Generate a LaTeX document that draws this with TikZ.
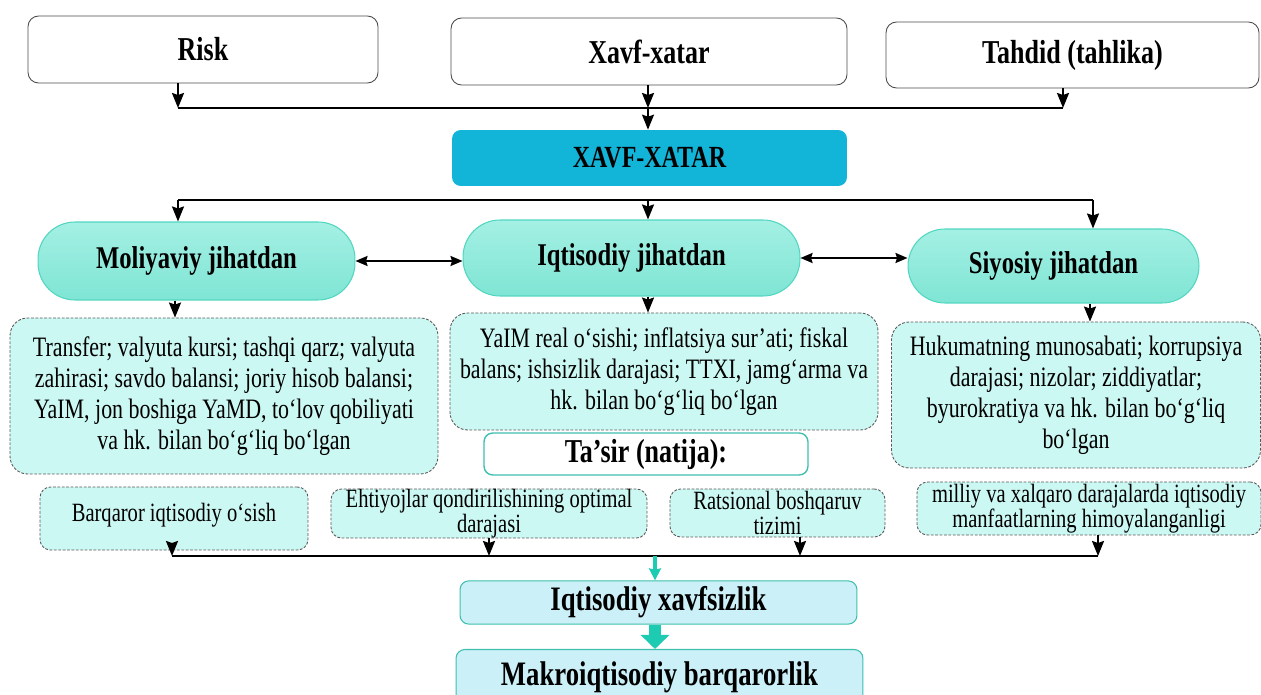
\documentclass[tikz,border=0pt]{standalone}
\usepackage{fontspec}
\setmainfont{Liberation Serif}[FakeStretch=0.78]
\usetikzlibrary{arrows.meta, positioning, calc}

\definecolor{PillTop}{HTML}{A4F0E4}
\definecolor{PillBot}{HTML}{7FE5D4}
\definecolor{PillLine}{HTML}{52D6C0}
\definecolor{SoftAqua}{HTML}{CCF8F3}
\definecolor{SkyCyan}{HTML}{12B4D8}
\definecolor{PaleCyan}{HTML}{CBF0F8}
\definecolor{TealLine}{HTML}{3FBFAE}
\definecolor{TealArrow}{HTML}{1DCAB2}

\begin{document}
\begin{tikzpicture}[x=0.02cm, y=-0.02cm,
    topbox/.style={rectangle, rounded corners=6pt, draw=black!70, line width=0.5pt, fill=white,
                   font=\fontsize{19}{22}\selectfont\bfseries},
    mainbox/.style={rectangle, rounded corners=5pt, fill=SkyCyan, minimum width=7.9cm, minimum height=1.12cm,
                    font=\fontsize{17.5}{20}\selectfont\bfseries},
    pill/.style={rectangle, rounded corners=0.74cm, draw=PillLine, line width=0.6pt,
                 top color=PillTop, bottom color=PillBot, font=\fontsize{18}{21}\selectfont\bfseries},
    textbox/.style={rectangle, rounded corners=10pt, draw=black!65, line width=0.5pt,
                    dash pattern=on 1.6pt off 0.9pt, fill=SoftAqua, align=center, inner sep=0pt,
                    font=\fontsize{16}{17.6}\selectfont},
    smallbox/.style={textbox, rounded corners=6pt, font=\fontsize{15}{14}\selectfont},
    resbox/.style={rectangle, rounded corners=5pt, draw=TealLine, line width=0.8pt, fill=white,
                   minimum width=6.48cm, minimum height=0.72cm, font=\fontsize{19}{22}\selectfont\bfseries},
    endbox/.style={rectangle, rounded corners=5pt, draw=TealLine, line width=0.6pt, fill=PaleCyan,
                   font=\fontsize{19.5}{22}\selectfont\bfseries},
    arrow/.style={-{Stealth[length=3mm, width=2.4mm, inset=0.4mm]}, line width=1.2pt},
    darrow/.style={{Stealth[length=2.4mm, width=2mm, inset=0.3mm]}-{Stealth[length=2.4mm, width=2mm, inset=0.3mm]}, line width=1.2pt},
    bus/.style={line width=1.5pt},
    tealarrow/.style={-{Stealth[length=2.4mm, width=2.4mm, inset=0.3mm]}, line width=1.8pt, TealArrow},
    fatarrow/.style={-{Triangle[length=8pt, width=16pt]}, line width=6.5pt, TealArrow}
]
\useasboundingbox (0,0) rectangle (1261,695);

\node[topbox, minimum width=7cm, minimum height=1.34cm] (risk) at (203,49.5) {Risk};
\node[topbox, minimum width=7.92cm, minimum height=1.34cm] (xavf) at (649,51.5) {Xavf-xatar};
\node[topbox, minimum width=7.46cm, minimum height=1.32cm] (tahdid) at (1072.5,55) {Tahdid (tahlika)};

\node[mainbox] (main) at (649.5,158) {XAVF-XATAR};

\node[pill, minimum width=6.34cm, minimum height=1.56cm] (moliya) at (196.5,261) {Moliyaviy jihatdan};
\node[pill, minimum width=6.74cm, minimum height=1.52cm] (iqtisod) at (631.5,258) {Iqtisodiy jihatdan};
\node[pill, minimum width=5.82cm, minimum height=1.48cm] (siyosiy) at (1053.5,266) {Siyosiy jihatdan};

\node[textbox, minimum width=8.56cm, minimum height=3.12cm] (mtext) at (224,396)
    {Transfer; valyuta kursi; tashqi qarz; valyuta\\ zahirasi; savdo balansi; joriy hisob balansi;\\
     YaIM, jon boshiga YaMD, to‘lov qobiliyati\\ va hk. bilan bo‘g‘liq bo‘lgan};
\node[textbox, minimum width=8.56cm, minimum height=2.34cm] (itext) at (664,371.5)
    {YaIM real o‘sishi; inflatsiya sur’ati; fiskal\\ balans; ishsizlik darajasi; TTXI, jamg‘arma va\\
     hk. bilan bo‘g‘liq bo‘lgan};
\node[textbox, minimum width=7.38cm, minimum height=2.92cm] (stext) at (1076,395)
    {Hukumatning munosabati; korrupsiya\\ darajasi; nizolar; ziddiyatlar;\\
     byurokratiya va hk. bilan bo‘g‘liq\\ bo‘lgan};

\node[resbox] (tasir) at (646,454) {Ta’sir (natija):};

\node[smallbox, minimum width=5.36cm, minimum height=1.26cm, text depth=6.5pt] (barqaror) at (174,518.5) {Barqaror iqtisodiy o‘sish};
\node[smallbox, minimum width=6.32cm, minimum height=0.98cm] (ehtiyoj) at (489,513.5)
    {Ehtiyojlar qondirilishining optimal\\ darajasi};
\node[smallbox, minimum width=4.3cm, minimum height=0.96cm] (ratsional) at (777.5,513) {Ratsional boshqaruv\\ tizimi};
\node[smallbox, minimum width=6.88cm, minimum height=1.06cm] (milliy) at (1089,508.5)
    {milliy va xalqaro darajalarda iqtisodiy\\ manfaatlarning himoyalanganligi};

\node[endbox, minimum width=7.94cm, minimum height=0.86cm] (xavfsiz) at (658.5,602.5) {Iqtisodiy xavfsizlik};
\node[endbox, minimum width=8.14cm, minimum height=1.1cm] (makro) at (659.5,677) {Makroiqtisodiy barqarorlik};

\coordinate (j1) at (648,108);
\coordinate (j2) at (648,200);
\coordinate (j3) at (655,556);

\draw[bus] (178,0 |- j1) -- (1063,0 |- j1);
\draw[arrow] (178,0 |- risk.south) -- (178,0 |- j1);
\draw[arrow] (j1 |- xavf.south) -- (j1);
\draw[arrow] (1063,0 |- tahdid.south) -- (1063,0 |- j1);
\draw[arrow, line width=0.9pt] (j1) -- (j1 |- main.north);

\draw[bus] (178,0 |- j2) -- (1093,0 |- j2);
\draw[arrow] (178,0 |- j2) -- (178,0 |- moliya.north);
\draw[arrow] (j2) -- (j2 |- iqtisod.north);
\draw[arrow] (1093,0 |- j2) -- (1093,0 |- siyosiy.north);

\draw[darrow] (moliya.east) -- (moliya.east -| iqtisod.west);
\draw[darrow] (iqtisod.east) -- (iqtisod.east -| siyosiy.west);

\draw[arrow] (175,0 |- moliya.south) -- (175,0 |- mtext.north);
\draw[arrow] (648,0 |- iqtisod.south) -- (648,0 |- itext.north);
\draw[arrow] (1090,0 |- siyosiy.south) -- (1090,0 |- stext.north);

\draw[bus] (172,0 |- j3) -- (1098,0 |- j3);
\draw[arrow] (172,0 |- barqaror.south) -- (172,0 |- j3);
\draw[arrow] (ehtiyoj.south) -- (ehtiyoj.south |- j3);
\draw[arrow] (800,0 |- ratsional.south) -- (800,0 |- j3);
\draw[arrow] (1098,0 |- milliy.south) -- (1098,0 |- j3);

\draw[tealarrow] (j3) -- (j3 |- xavfsiz.north);
\draw[fatarrow] (j3 |- xavfsiz.south) -- (j3 |- makro.north);
\end{tikzpicture}
\end{document}
